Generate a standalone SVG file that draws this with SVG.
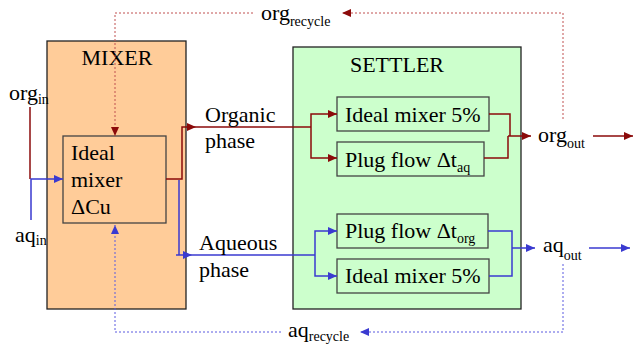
<svg xmlns="http://www.w3.org/2000/svg" width="633" height="345" viewBox="0 0 633 345">
<style>
text{font-family:"Liberation Serif","Times New Roman",serif;font-size:22px;fill:#000}
.sub{font-size:14px}
.outer{stroke:#222;stroke-width:1.3}
.inner{stroke:#444;stroke-width:1.3}
.red{fill:none;stroke:#8b0a0a;stroke-width:1.5}
.blue{fill:none;stroke:#3a3ad0;stroke-width:1.5}
.rdash{fill:none;stroke:#c05050;stroke-width:1;stroke-dasharray:2,2}
.bdash{fill:none;stroke:#5a5ae0;stroke-width:1;stroke-dasharray:2,2}
</style>
<defs>
<marker id="ar" markerUnits="userSpaceOnUse" markerWidth="10" markerHeight="10" refX="9" refY="5" orient="auto"><path d="M0,1 L9,5 L0,9 Z" fill="#8b0a0a"/></marker>
<marker id="ab" markerUnits="userSpaceOnUse" markerWidth="10" markerHeight="10" refX="9" refY="5" orient="auto"><path d="M0,1 L9,5 L0,9 Z" fill="#3a3ad0"/></marker>
</defs>
<g id="mixer">
<rect class="outer" x="47" y="41" width="139" height="268" fill="#ffcc99"/>
<text x="117" y="65" text-anchor="middle">MIXER</text>
</g>
<g id="ideal-mixer-cu">
<rect class="inner" x="63" y="136" width="103" height="87" fill="#ffcc99"/>
<text x="71" y="160">Ideal</text>
<text x="71" y="187">mixer</text>
<text x="71" y="214">ΔCu</text>
</g>
<g id="settler">
<rect class="outer" x="293" y="47" width="228" height="262" fill="#ccffcc"/>
<text x="397" y="72" text-anchor="middle">SETTLER</text>
</g>
<g id="org-ideal-mixer">
<rect class="inner" x="337" y="97" width="152" height="34" fill="#ccffcc"/>
<text x="345" y="122">Ideal mixer 5%</text>
</g>
<g id="org-plug-flow">
<rect class="inner" x="337" y="142" width="147" height="34" fill="#ccffcc"/>
<text x="345" y="167">Plug flow Δt<tspan class="sub" dy="5">aq</tspan></text>
</g>
<g id="aq-plug-flow">
<rect class="inner" x="337" y="214" width="151" height="34" fill="#ccffcc"/>
<text x="345" y="238">Plug flow Δt<tspan class="sub" dy="5">org</tspan></text>
</g>
<g id="aq-ideal-mixer">
<rect class="inner" x="337" y="259" width="152" height="34" fill="#ccffcc"/>
<text x="345" y="283">Ideal mixer 5%</text>
</g>
<g id="connectors">
<path class="red" d="M30,107 V179"/>
<path class="blue" d="M31,220 V179 H63" marker-end="url(#ab)"/>
<path class="red" d="M166,179 H182 V127 H196" marker-end="url(#ar)"/>
<path class="red" d="M196,127 H311"/>
<path class="red" d="M311,127 V114 H337" marker-end="url(#ar)"/>
<path class="red" d="M311,127 V158 H337" marker-end="url(#ar)"/>
<path class="red" d="M489,114 H510 V136"/>
<path class="red" d="M484,158 H508 V136"/>
<path class="red" d="M508,136 H531" marker-end="url(#ar)"/>
<path class="red" d="M593,136 H633" marker-end="url(#ar)"/>
<path class="blue" d="M179,180 V255"/>
<path class="blue" d="M176,255 H192" marker-end="url(#ab)"/>
<path class="blue" d="M192,255 H315"/>
<path class="blue" d="M315,255 V231 H337" marker-end="url(#ab)"/>
<path class="blue" d="M315,255 V276 H337" marker-end="url(#ab)"/>
<path class="blue" d="M488,231 H512 V276 H489"/>
<path class="blue" d="M512,248 H535" marker-end="url(#ab)"/>
<path class="blue" d="M589,248 H630" marker-end="url(#ab)"/>
<path class="rdash" d="M563,119 V13 H342" marker-end="url(#ar)"/>
<path class="rdash" d="M253,13 H115 V136" marker-end="url(#ar)"/>
<path class="bdash" d="M563,264 V332 H360" marker-end="url(#ab)"/>
<path class="bdash" d="M281,332 H115 V225" marker-end="url(#ab)"/>
</g>
<g id="labels">
<text x="9" y="100">org<tspan class="sub" dy="4">in</tspan></text>
<text x="15" y="242">aq<tspan class="sub" dy="3">in</tspan></text>
<text x="205" y="122">Organic</text>
<text x="205" y="148">phase</text>
<text x="199" y="250">Aqueous</text>
<text x="199" y="277">phase</text>
<text x="538" y="142">org<tspan class="sub" dy="6">out</tspan></text>
<text x="543" y="252">aq<tspan class="sub" dy="8">out</tspan></text>
<text x="261" y="20">org<tspan class="sub" dy="6">recycle</tspan></text>
<text x="288" y="337">aq<tspan class="sub" dy="4">recycle</tspan></text>
</g>
</svg>
